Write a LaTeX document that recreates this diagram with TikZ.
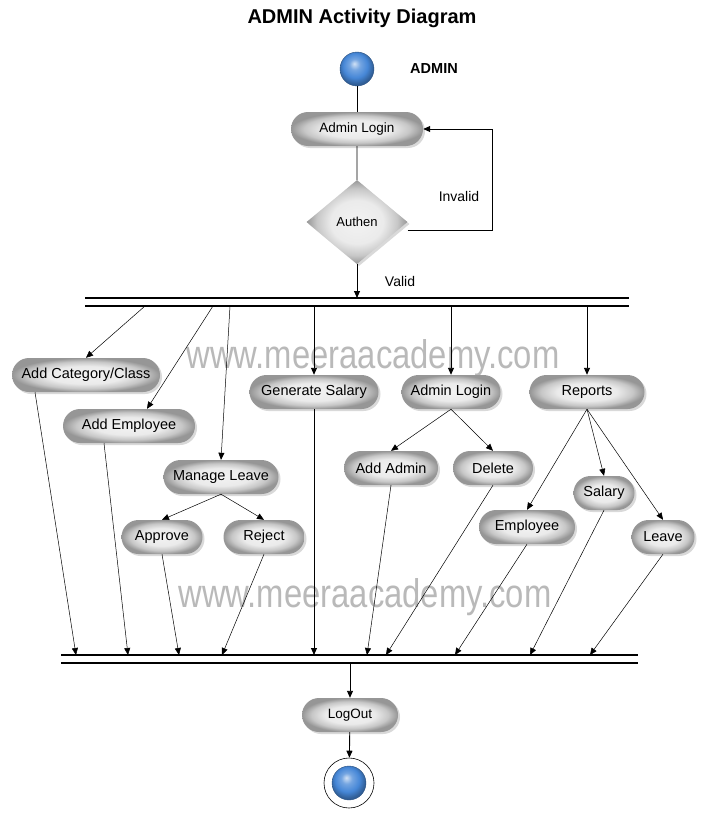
\documentclass[tikz,border=0pt]{standalone}
\usepackage{fontspec}
\setmainfont{Liberation Sans}
\usetikzlibrary{arrows.meta,shapes,shadows,positioning}

\definecolor{ballblue}{RGB}{70,135,215}
\definecolor{pillgray}{RGB}{150,150,150}

\pgfdeclareradialshading{pillshade}{\pgfpoint{0bp}{0bp}}{color(0bp)=(white!95!black); color(13bp)=(white!92!black); color(20bp)=(white!78!black); color(25bp)=(pillgray); color(50bp)=(pillgray)}
\pgfdeclareradialshading{blueball}{\pgfpoint{-4bp}{8bp}}{color(0bp)=(ballblue!25!white); color(8bp)=(ballblue!75!white); color(18bp)=(ballblue); color(26bp)=(ballblue!70!black); color(50bp)=(ballblue!70!black)}

\tikzset{
	>={Triangle[length=7pt,width=6pt]},
	act/.style={rounded rectangle, draw=none, minimum height=34pt, inner sep=2pt,
		shading=pillshade,
		drop shadow={shadow xshift=2pt, shadow yshift=-2pt, opacity=0.3},
		font=\fontsize{14.5}{16}\selectfont},
	smallact/.style={act, font=\fontsize{13.5}{15}\selectfont},
	decide/.style={diamond, draw=none, inner sep=0pt, minimum width=101pt, minimum height=84pt,
		shading=pillshade,
		drop shadow={shadow xshift=2pt, shadow yshift=-2pt, opacity=0.3},
		font=\fontsize{13}{15}\selectfont},
	ballnode/.style={circle, minimum size=34pt, inner sep=0pt, shading=blueball, draw=ballblue!60!black, line width=0.4pt},
	flow/.style={->, line width=0.9pt},
	conn/.style={->, line width=0.5pt},
	bar/.style={line width=1.1pt},
	watermark/.style={text=gray!55, font=\fontsize{40}{44}\selectfont},
	lbl/.style={font=\fontsize{14}{16}\selectfont}
}

\begin{document}
\begin{tikzpicture}[x=1pt,y=-1pt]
	\useasboundingbox (0,0) rectangle (706,816);
	
	\node [watermark] (wm1) at (373,358) {\scalebox{0.82}[1]{www.meeraacademy.com}};
	\node [watermark] (wm2) at (365,597) {\scalebox{0.82}[1]{www.meeraacademy.com}};
	
	\node [font=\bfseries\fontsize{20}{24}\selectfont] (title) at (362,18) {ADMIN Activity Diagram};
	\node [font=\bfseries\fontsize{14.5}{16}\selectfont] (who) at (434,69) {ADMIN};
	
	\node [ballnode] (init) at (357,69) {};
	\node [smallact, minimum width=136pt] (login) at (357,129) {Admin Login};
	\node [decide] (auth) at (357,222) {Authen};
	
	% fork and join bars
	\draw [bar] (85,298) -- (629,298);
	\draw [bar] (85,306) -- (629,306);
	\draw [bar] (61,655) -- (638,655);
	\draw [bar] (61,663) -- (638,663);
	
	\coordinate (valid) at (357,298);
	\coordinate (f1) at (145,306);
	\coordinate (f2) at (213,306);
	\coordinate (f3) at (230,306);
	\coordinate (f4) at (314,306);
	\coordinate (f5) at (451,306);
	\coordinate (f6) at (587,306);
	
	\coordinate (j1) at (76,655);
	\coordinate (j2) at (128,655);
	\coordinate (j3) at (179,655);
	\coordinate (j4) at (222,655);
	\coordinate (j5) at (314,655);
	\coordinate (j6) at (367,655);
	\coordinate (j7) at (386,655);
	\coordinate (j8) at (455,655);
	\coordinate (j9) at (530,655);
	\coordinate (j10) at (590,655);
	\coordinate (out) at (350,663);
	
	\node [act, minimum width=152pt] (cat) at (86,375) {Add Category/Class};
	\node [act, minimum width=136pt] (emp) at (129,426) {Add Employee};
	\node [act, minimum width=119pt] (mleave) at (221,477) {Manage Leave};
	\node [act, minimum width=85pt] (appr) at (162,537) {Approve};
	\node [act, minimum width=85pt] (rej) at (264,537) {Reject};
	\node [act, minimum width=133pt] (gensal) at (314,392) {Generate Salary};
	\node [act, minimum width=103pt] (alogin) at (451,392) {Admin Login};
	\node [act, minimum width=98pt] (addadm) at (391,468) {Add Admin};
	\node [act, minimum width=84pt] (del) at (493,468) {Delete};
	\node [act, minimum width=119pt] (rep) at (587,392) {Reports};
	\node [act, minimum width=100pt] (empr) at (527,527) {Employee};
	\node [act, minimum width=65pt] (sal) at (604,493) {Salary};
	\node [act, minimum width=67pt] (leave) at (663,537) {Leave};
	
	\node [smallact, minimum width=100pt] (logout) at (350,715) {LogOut};
	\node [circle, draw, line width=0.6pt, minimum size=50pt, inner sep=0pt] (fin) at (349,783) {};
	\node [ballnode] (finball) at (fin) {};
	
	% top part
	\draw [line width=0.9pt] (init) -- (login);
	\draw [line width=0.9pt] (login) -- (auth);
	\draw [flow] ([yshift=-8pt]auth.east) -- ++(85,0) |- (login.east);
	\node [lbl] (inv) at (459,196) {Invalid};
	\draw [flow] (auth) -- (valid);
	\node [lbl] (val) at (400,281) {Valid};
	
	% out of the fork
	\draw [conn] (f1) -- (cat.north);
	\draw [conn] (f2) -- ([xshift=18pt]emp.north);
	\draw [conn] (f3) -- (mleave.north);
	\draw [flow] (f4) -- (gensal.north);
	\draw [flow] (f5) -- (alogin.north);
	\draw [flow] (f6) -- (rep.north);
	
	\draw [conn] (mleave.south) -- (appr.north);
	\draw [conn] (mleave.south) -- (rej.north);
	\draw [conn] (alogin.south) -- (addadm.north);
	\draw [conn] (alogin.south) -- (del.north);
	\draw [conn] (rep.south) -- (empr.north);
	\draw [conn] (rep.south) -- (sal.north);
	\draw [conn] (rep.south) -- (leave.north);
	
	% into the join
	\draw [conn] ([xshift=-51pt]cat.south) -- (j1);
	\draw [conn] ([xshift=-25pt]emp.south) -- (j2);
	\draw [conn] (appr.south) -- (j3);
	\draw [conn] (rej.south) -- (j4);
	\draw [flow] (gensal.south) -- (j5);
	\draw [conn] (addadm.south) -- (j6);
	\draw [conn] (del.south) -- (j7);
	\draw [conn] (empr.south) -- (j8);
	\draw [conn] (sal.south) -- (j9);
	\draw [conn] (leave.south) -- (j10);
	
	\draw [flow] (out) -- (logout);
	\draw [flow] (logout) -- (fin);
\end{tikzpicture}
\end{document}
